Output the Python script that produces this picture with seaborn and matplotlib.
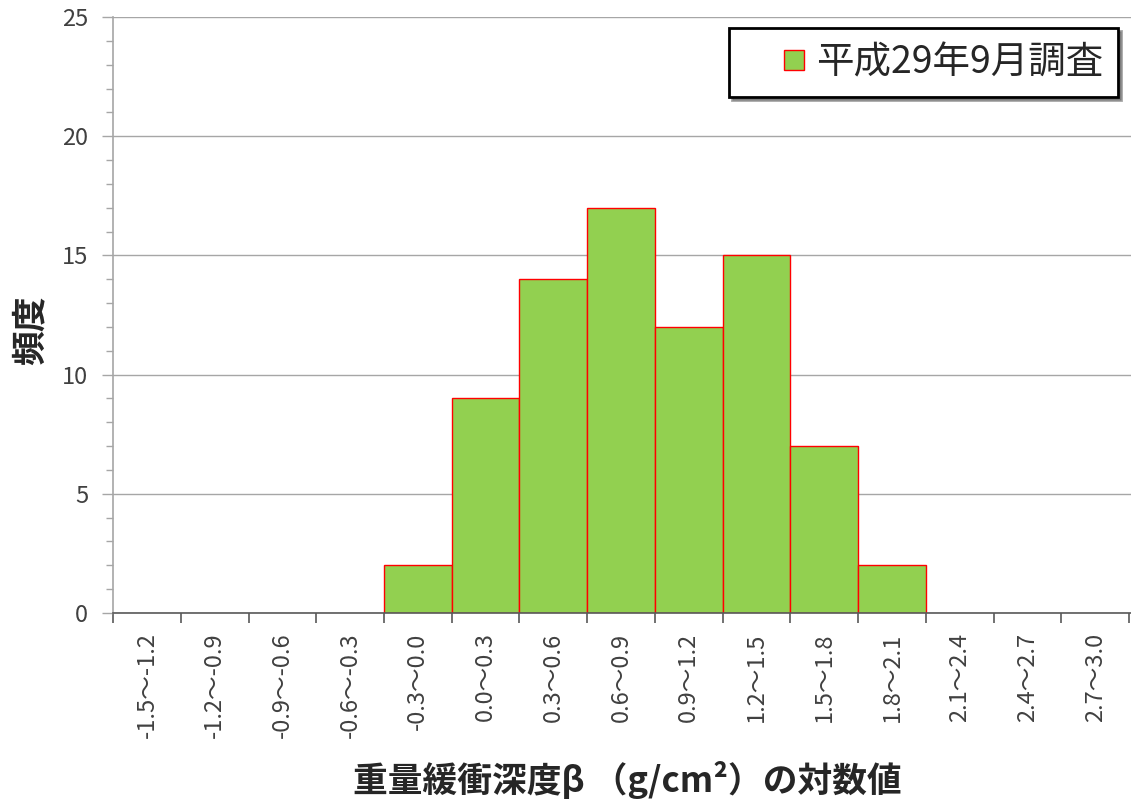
import matplotlib
matplotlib.use("Agg")
import matplotlib.pyplot as plt
import seaborn as sns
import pandas as pd
from matplotlib.patches import Patch, Rectangle
from matplotlib.legend_handler import HandlerPatch
from matplotlib.ticker import MultipleLocator

categories = ["-1.5～-1.2", "-1.2～-0.9", "-0.9～-0.6", "-0.6～-0.3", "-0.3～0.0",
              "0.0～0.3", "0.3～0.6", "0.6～0.9", "0.9～1.2", "1.2～1.5",
              "1.5～1.8", "1.8～2.1", "2.1～2.4", "2.4～2.7", "2.7～3.0"]
counts = [0, 0, 0, 0, 2, 9, 14, 17, 12, 15, 7, 2, 0, 0, 0]
series_name = "平成29年9月調査"
y_ticks = [0, 5, 10, 15, 20, 25]

sns.set_theme(style="white")
plt.rcParams['font.family'] = ['Noto Sans CJK JP', 'DejaVu Sans']

df = pd.DataFrame({"cat": categories, "count": counts})

fig = plt.figure(figsize=(11.31, 8.05), dpi=100)
ax = fig.add_axes([0.1, 0.2385, 0.9, 0.7404])

sns.barplot(data=df, x="cat", y="count", color="#92D050", width=1.0,
            edgecolor="#FF0000", linewidth=1.0, saturation=1, ax=ax, zorder=3)
for p, c in zip(ax.patches, counts):
    if c == 0:
        p.set_visible(False)

ax.set_ylim(0, 25)
ax.set_xlim(-0.5, len(categories) - 0.5 + 0.03)
ax.set_yticks(y_ticks)
ax.yaxis.set_minor_locator(MultipleLocator(1))
ax.grid(axis="y", which="major", color="#A6A6A6", linewidth=1.0, zorder=0)
ax.set_axisbelow(True)

for s in ["top", "right"]:
    ax.spines[s].set_visible(False)
ax.spines["left"].set_color("#A6A6A6")
ax.spines["left"].set_linewidth(1.2)
ax.spines["bottom"].set_color("#595959")
ax.spines["bottom"].set_linewidth(1.2)
ax.spines["bottom"].set_zorder(5)

ax.set_xticks(range(len(categories)))
ax.set_xticklabels(categories, rotation=90, fontsize=17, color="#404040")
ax.set_xticks([i - 0.5 for i in range(len(categories) + 1)], minor=True)
ax.tick_params(axis="x", which="major", length=0, pad=14)
ax.tick_params(axis="x", which="minor", length=7, width=1.2, color="#595959", bottom=True)
ax.tick_params(axis="y", which="major", length=8, width=1.0, color="#A6A6A6",
               labelsize=17, labelcolor="#404040", left=True, pad=10)
ax.tick_params(axis="y", which="minor", length=5, width=1.0, color="#A6A6A6", left=True)

ax.set_xlabel("重量緩衝深度β （g/cm²）の対数値", fontsize=25, fontweight="bold",
              color="#262626")
ax.xaxis.label.set_va("center")
ax.xaxis.set_label_coords(0.505, -0.280)
ax.set_ylabel("頻度", fontsize=25, fontweight="bold", color="#262626")
ax.yaxis.label.set_va("center")
ax.yaxis.set_label_coords(-0.0815, 0.475)


def small_square(legend, orig_handle, xdescent, ydescent, width, height, fontsize):
    s = 0.55 * fontsize
    return Rectangle((width - s - xdescent, (height - s) / 2 - ydescent), s, s)


handle = Patch(facecolor="#92D050", edgecolor="#FF0000", linewidth=1.0)
leg = ax.legend([handle], [series_name], loc="upper right", bbox_to_anchor=(0.987, 0.9815),
                fontsize=27, frameon=True, fancybox=False, shadow=True,
                handlelength=1.6, handleheight=0.7, handletextpad=0.3,
                borderpad=0.4, borderaxespad=0.0,
                handler_map={Patch: HandlerPatch(patch_func=small_square)})
leg.get_frame().set_edgecolor("black")
leg.get_frame().set_linewidth(2.0)
for t in leg.get_texts():
    t.set_color("#262626")

fig.savefig("out.png", dpi=100)
